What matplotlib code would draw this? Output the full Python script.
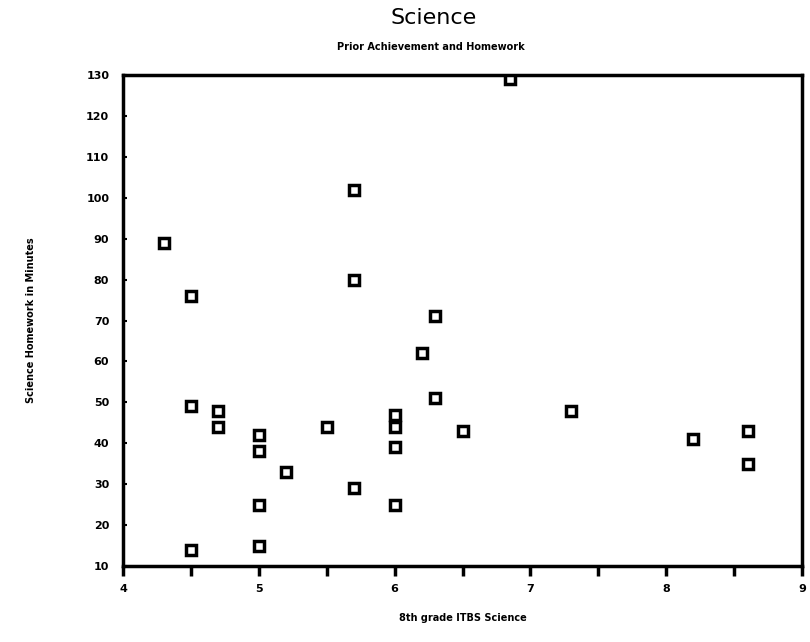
import matplotlib
matplotlib.use("Agg")
import matplotlib.pyplot as plt
import numpy as np

itbs_score = [4.3, 4.5, 4.5, 4.5, 4.7, 4.7, 5.0, 5.0, 5.0, 5.0, 5.2, 5.5,
              5.7, 5.7, 5.7, 6.0, 6.0, 6.0, 6.0, 6.2, 6.3, 6.3, 6.5, 6.85,
              7.3, 8.2, 8.6, 8.6]
homework_min = [89, 76, 49, 14, 48, 44, 42, 38, 25, 15, 33, 44,
                102, 80, 29, 47, 44, 39, 25, 62, 71, 51, 43, 129,
                48, 41, 43, 35]
x_ticks = [4, 5, 6, 7, 8, 9]
y_ticks = [10, 20, 30, 40, 50, 60, 70, 80, 90, 100, 110, 120, 130]

fig = plt.figure(figsize=(8.1, 6.42), dpi=100)
ax = fig.add_axes([0.152, 0.1184, 0.838, 0.7646])

ax.plot(itbs_score, homework_min, linestyle="none", marker="s", markersize=6.5,
        markerfacecolor="white", markeredgecolor="black", markeredgewidth=2.5)

ax.set_xlim(4, 9)
ax.set_ylim(10, 130)
ax.set_xticks(x_ticks)
ax.set_xticks(np.arange(4, 9.01, 0.5), minor=True)
ax.set_yticks(y_ticks)
ax.set_xticklabels([str(t) for t in x_ticks], fontsize=8, fontweight="bold")
ax.set_yticklabels([str(t) for t in y_ticks], fontsize=8, fontweight="bold")
ax.tick_params(axis="x", which="both", direction="out", length=7, width=2.5, pad=6)
ax.tick_params(axis="y", which="both", direction="in", length=3, width=1.5, pad=10)

for s in ax.spines.values():
    s.set_linewidth(2.5)

ax.set_xlabel("8th grade ITBS Science", fontsize=7, fontweight="bold", labelpad=14)
ax.set_ylabel("Science Homework in Minutes", fontsize=7, fontweight="bold", labelpad=36)

fig.text(0.535, 0.972, "Science", ha="center", va="center", fontsize=16)
fig.text(0.532, 0.927, "Prior Achievement and Homework", ha="center", va="center",
         fontsize=7, fontweight="bold")

fig.savefig("out.png", dpi=100, facecolor="white")
